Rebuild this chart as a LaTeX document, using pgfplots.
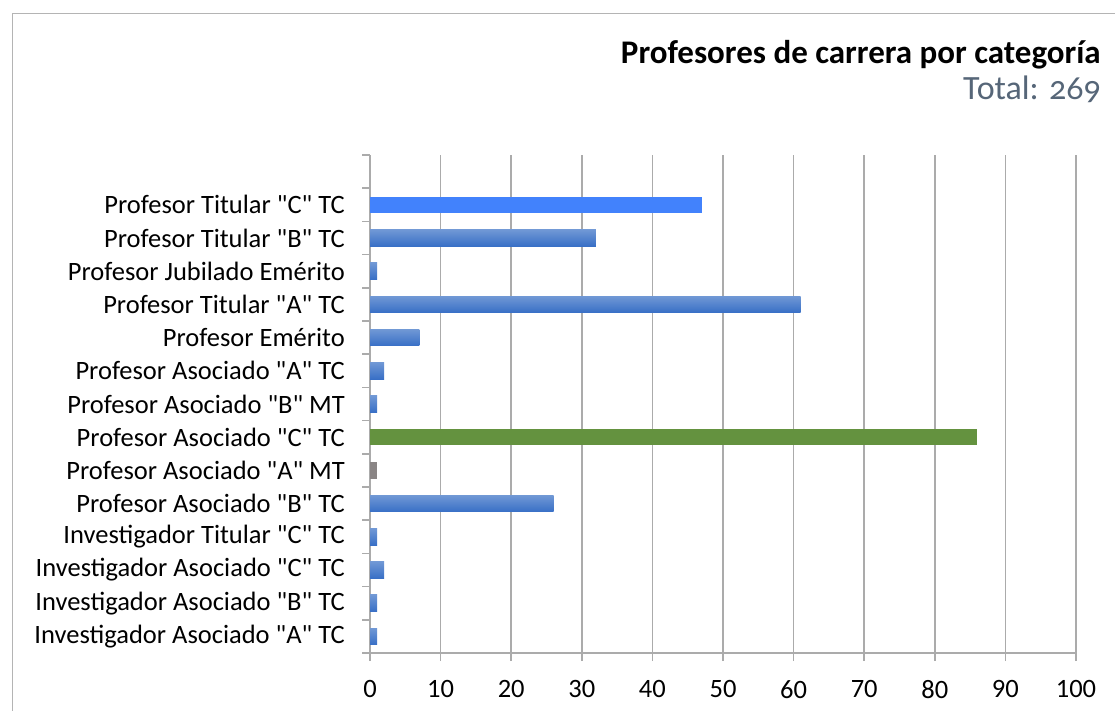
\documentclass[border=0pt]{standalone}
\usepackage{fontspec}
\setmainfont{Carlito}
\newfontfamily\totalfont[Numbers=OldStyle]{Carlito}
\usepackage{pgfplots}
\pgfplotsset{compat=1.18}
\definecolor{gridc}{HTML}{ABABAB}
\definecolor{framec}{HTML}{B4B4B4}
\definecolor{blueT}{HTML}{7098D5}
\definecolor{blueB}{HTML}{386FC6}
\definecolor{brightblue}{HTML}{4282FC}
\definecolor{greenbar}{HTML}{64923F}
\definecolor{greybar}{HTML}{8A8585}
\definecolor{totalc}{HTML}{566678}
\newcommand{\q}{\textquotedbl{}}
\begin{document}
\begin{tikzpicture}[x=1pt,y=1pt]
\useasboundingbox (0,0) rectangle (1115,711);
\draw[framec, line width=1.5pt] (12.5,0) -- (12.5,697.5) -- (1115,697.5);
\node[anchor=base east, inner sep=0pt, font=\bfseries\fontsize{33}{40}\selectfont] at (1101,647) {Profesores de carrera por categoría};
\node[anchor=base east, inner sep=0pt, text=totalc, font=\totalfont\fontsize{34}{40}\selectfont] at (1101,611) {Total: 269};
\begin{axis}[
  at={(370pt,58pt)}, anchor=south west,
  scale only axis, width=706pt, height=498pt,
  xmin=0, xmax=100, ymin=-0.5, ymax=14.5,
  axis lines=left, axis line style={-, draw=gridc, line width=1.5pt},
  xtick={0,10,...,100},
  ytick={0,...,13},
  yticklabels={Investigador Asociado \q A\q{} TC, Investigador Asociado \q B\q{} TC, Investigador Asociado \q C\q{} TC, Investigador Titular \q C\q{} TC, Profesor Asociado \q B\q{} TC, Profesor Asociado \q A\q{} MT, Profesor Asociado \q C\q{} TC, Profesor Asociado \q B\q{} MT, Profesor Asociado \q A\q{} TC, Profesor Emérito, Profesor Titular \q A\q{} TC, Profesor Jubilado Emérito, Profesor Titular \q B\q{} TC, Profesor Titular \q C\q{} TC},
  minor ytick={-0.5,0.5,...,14.5},
  tick align=outside,
  major tick length=8pt, minor tick length=8pt,
  major x tick style={draw=gridc, line width=1.5pt},
  major y tick style={draw=none},
  minor y tick style={draw=gridc, line width=1.5pt},
  xmajorgrids, grid style={draw=gridc, line width=1.5pt},
  tick label style={font=\fontsize{26.5}{31}\selectfont},
  /pgf/number format/assume math mode=true,
  xticklabel style={inner sep=0pt, yshift=-19pt},
  yticklabel style={inner sep=0pt, xshift=-17pt},
  xbar, bar width=16.5pt, bar shift=0pt,
  gb/.style={draw=none, top color=blueT, bottom color=blueB},
]
\addplot[gb] coordinates {(1,0)};
\addplot[gb] coordinates {(1,1)};
\addplot[gb] coordinates {(2,2)};
\addplot[gb] coordinates {(1,3)};
\addplot[gb] coordinates {(26,4)};
\addplot[gb] coordinates {(1,7)};
\addplot[gb] coordinates {(2,8)};
\addplot[gb] coordinates {(7,9)};
\addplot[gb] coordinates {(61,10)};
\addplot[gb] coordinates {(1,11)};
\addplot[gb] coordinates {(32,12)};
\addplot[draw=none, fill=brightblue] coordinates {(47,13)};
\addplot[draw=none, fill=greenbar] coordinates {(86,6)};
\addplot[draw=none, fill=greybar] coordinates {(1,5)};
\end{axis}
\end{tikzpicture}
\end{document}
